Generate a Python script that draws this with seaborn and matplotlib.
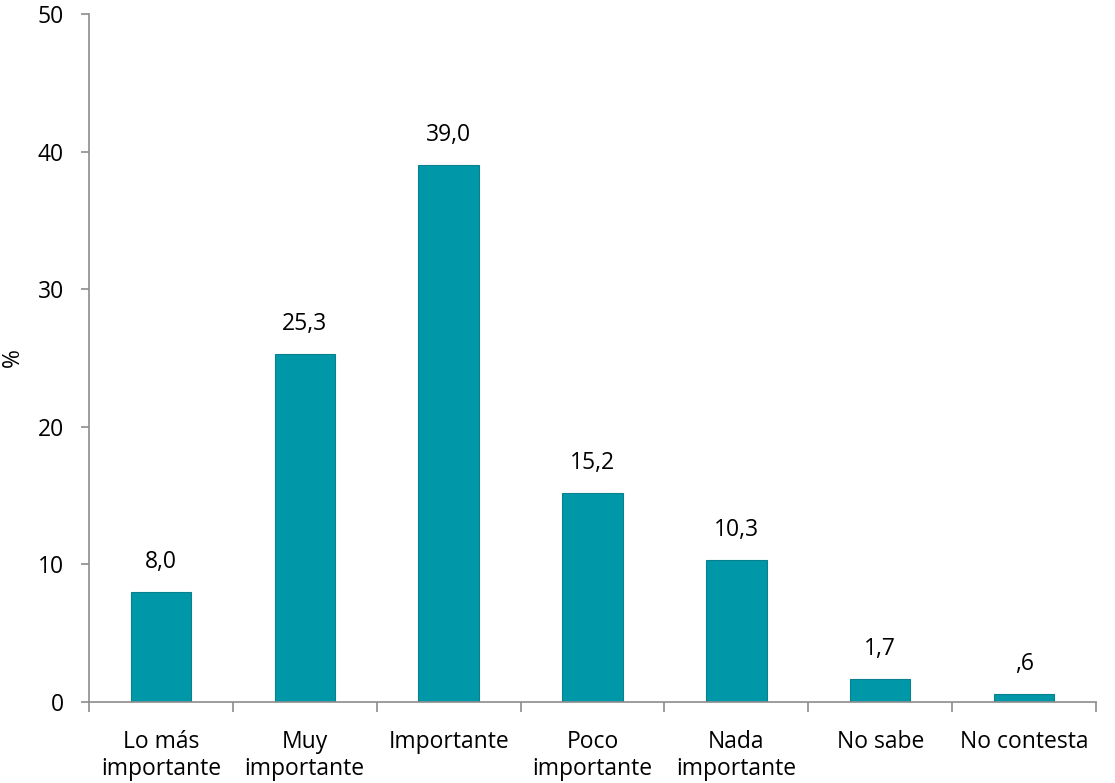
import numpy as np
import pandas as pd
import seaborn as sns
import matplotlib.pyplot as plt
from matplotlib.ticker import FixedLocator

categories = ["Lo más\nimportante", "Muy\nimportante", "Importante", "Poco\nimportante",
              "Nada\nimportante", "No sabe", "No contesta"]
values = [8.0, 25.3, 39.0, 15.2, 10.3, 1.7, 0.6]
labels = ["8,0", "25,3", "39,0", "15,2", "10,3", "1,7", ",6"]

sns.set_style("white")
plt.rcParams['font.family'] = ['Open Sans', 'DejaVu Sans']
plt.rcParams['text.color'] = 'black'
plt.rcParams['axes.labelcolor'] = 'black'
plt.rcParams['xtick.labelcolor'] = 'black'
plt.rcParams['ytick.labelcolor'] = 'black'

df = pd.DataFrame({"cat": categories, "val": values})

fig = plt.figure(figsize=(11.15, 7.83), dpi=100)
ax = fig.add_axes([0.0798, 0.1034, 0.9032, 0.8787])
sns.barplot(data=df, x="cat", y="val", color="#0098A8", saturation=1,
            width=0.42, edgecolor="#08808e", linewidth=0.8, ax=ax)

fs = 16.5
for i, (v, lab) in enumerate(zip(values, labels)):
    ax.text(i, v + 1.3, lab, ha="center", va="bottom", fontsize=fs)

ax.set_xlim(-0.5, len(categories) - 0.5)
ax.set_ylim(0, 50)
ax.set_yticks([0, 10, 20, 30, 40, 50])
ax.set_xlabel("")
ax.set_ylabel("%", fontsize=fs)
ax.yaxis.set_label_coords(-0.064, 0.5)
ax.tick_params(axis="y", labelsize=fs, length=6, color="#8c8c8c", width=1.2, pad=12, left=True)
ax.tick_params(axis="x", which="major", labelsize=fs, length=0, pad=20, bottom=True)
ax.xaxis.set_minor_locator(FixedLocator(np.arange(-0.5, len(categories), 1.0)))
ax.tick_params(axis="x", which="minor", length=7, color="#8c8c8c", width=1.2, bottom=True)
for t in ax.get_xticklabels():
    t.set_linespacing(1.2)

for s in ["top", "right"]:
    ax.spines[s].set_visible(False)
for s in ["left", "bottom"]:
    ax.spines[s].set_color("#8c8c8c")
    ax.spines[s].set_linewidth(1.2)

fig.savefig("out.png", dpi=100)
